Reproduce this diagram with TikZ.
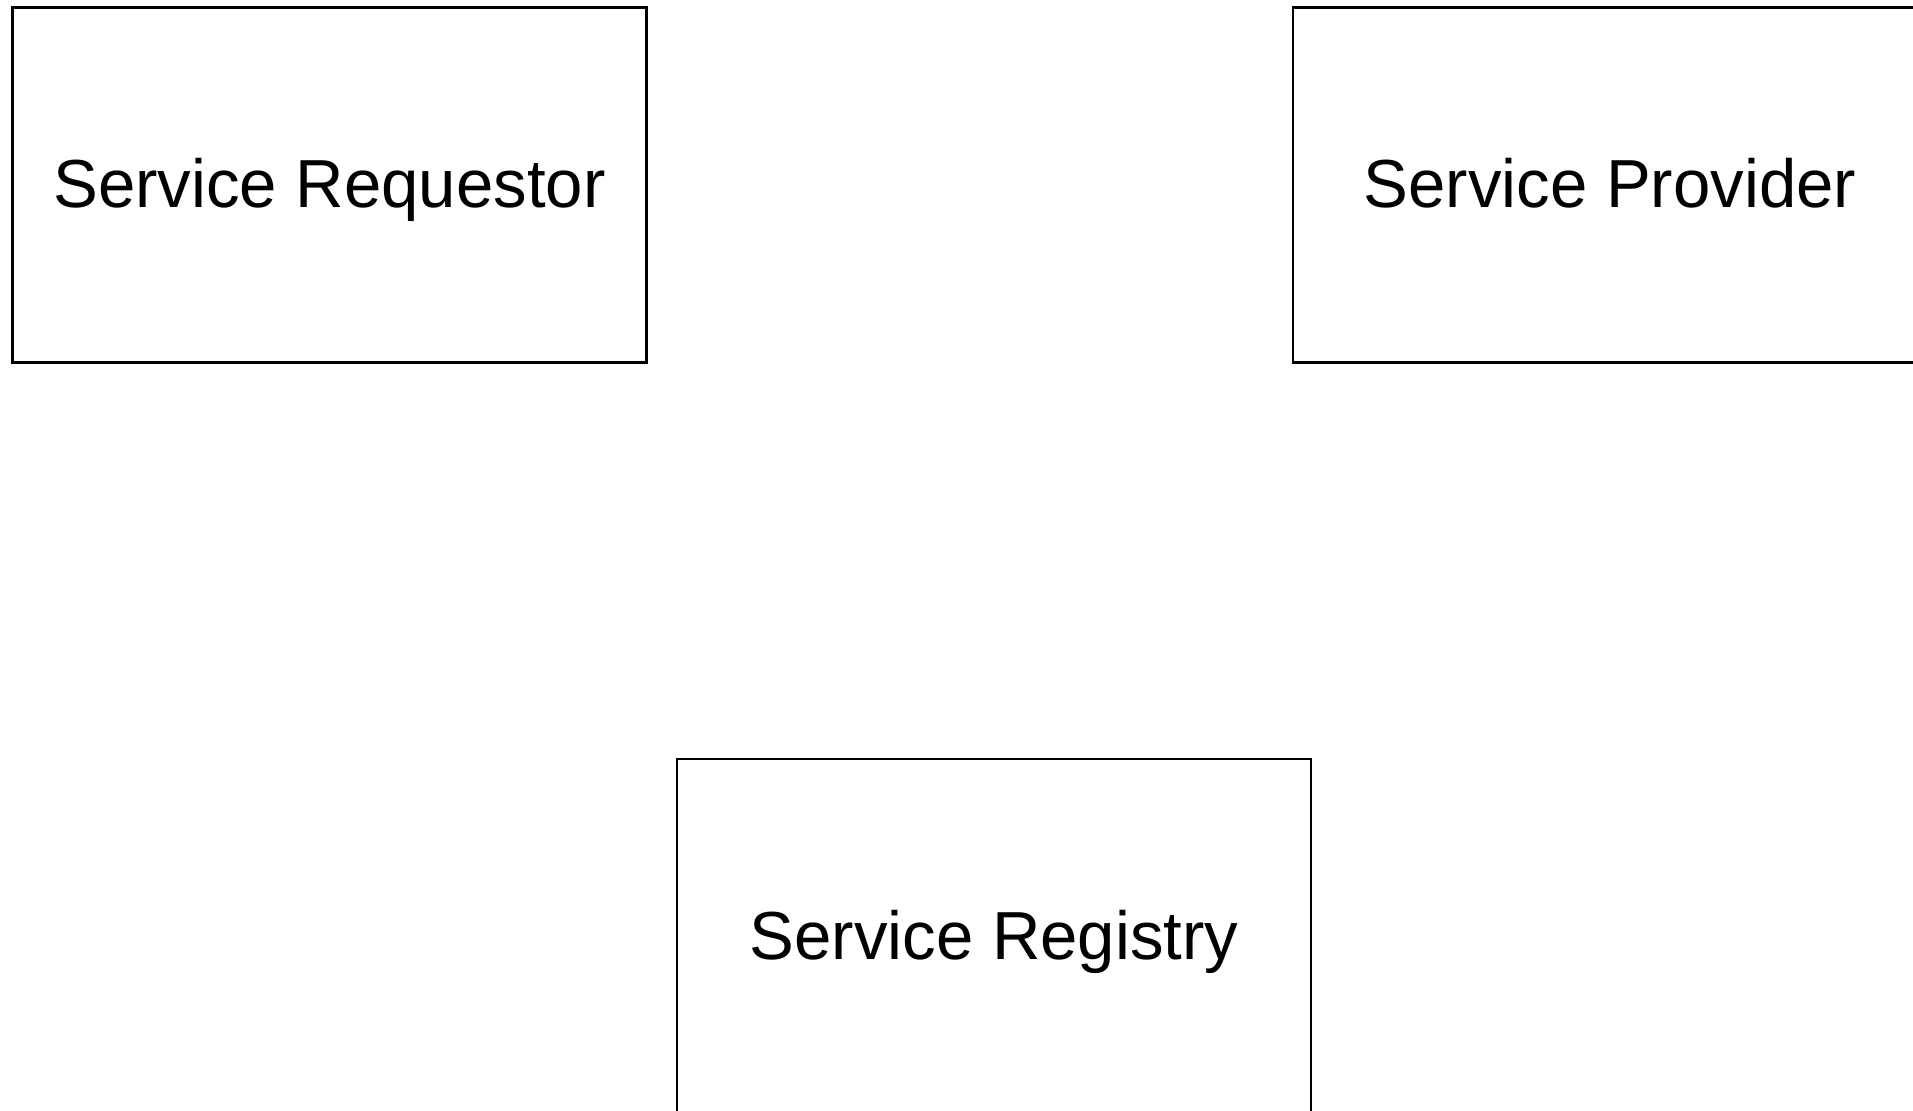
\documentclass[tikz,border=0pt]{standalone}
\usepackage{fontspec}
\setmainfont[FakeStretch=0.987]{Liberation Sans}

\tikzset{
	svcbox/.style={draw, line width=1.4pt, rectangle, minimum width=317pt, minimum height=177.5pt,
		font=\fontsize{34pt}{40pt}\selectfont, inner sep=0pt, text height=23pt, text depth=0pt}
}

\begin{document}
\begin{tikzpicture}[x=1pt, y=1pt]
		\useasboundingbox (0, 0) rectangle (956.5, -555.5);

		\node[svcbox] (requestor) at (164.75, -92.5) {Service Requestor};
		\node[svcbox] (provider) at (805, -92.5) {Service Provider};
		\node[svcbox] (registry) at (497, -468.25) {Service Registry};
	\end{tikzpicture}
\end{document}
